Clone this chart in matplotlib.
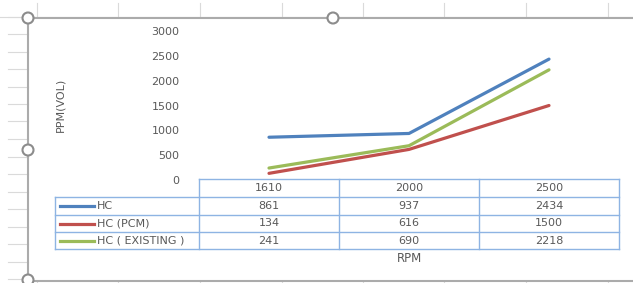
import matplotlib
matplotlib.use("Agg")
import matplotlib.pyplot as plt
from matplotlib.lines import Line2D
from matplotlib.patches import Ellipse

categories = ["1610", "2000", "2500"]
series_names = ["HC", "HC (PCM)", "HC ( EXISTING )"]
hc = [861, 937, 2434]
hc_pcm = [134, 616, 1500]
hc_existing = [241, 690, 2218]
series_values = [hc, hc_pcm, hc_existing]
colors = ["#4F81BD", "#C0504D", "#9BBB59"]
yticks = [0, 500, 1000, 1500, 2000, 2500, 3000]

W, H = 633, 283
fig = plt.figure(figsize=(W / 100, H / 100), dpi=100)
plt.rcParams['font.family'] = ['DejaVu Sans']
TXT = "#595959"

def fx(x):
    return x / W

def fy(y):
    return 1 - y / H

def line(x0, y0, x1, y1, **kw):
    fig.add_artist(Line2D([fx(x0), fx(x1)], [fy(y0), fy(y1)], transform=fig.transFigure, **kw))

# spreadsheet background gridlines
grid_c = "#DADADA"
for x in [37, 118, 200, 282, 363, 444, 526, 608]:
    line(x, 3, x, 17, color=grid_c, lw=0.8)
    line(x, 282, x, 283, color=grid_c, lw=0.8)
y = 16.5
while y < 283:
    line(8, y, 28, y, color=grid_c, lw=0.8)
    y += 17.5
line(0, 17, 633, 17, color=grid_c, lw=0.8)

# chart frame
frame_c = "#ABABAB"
line(28, 18, 633, 18, color=frame_c, lw=1.5)
line(28, 18, 28, 281, color=frame_c, lw=1.5)
line(28, 281, 633, 281, color=frame_c, lw=1.5)
for (cx, cy) in [(28, 18), (333, 18), (28, 150), (28, 280)]:
    fig.add_artist(Ellipse((fx(cx), fy(cy)), 11 / W, 11 / H, transform=fig.transFigure,
                           facecolor="white", edgecolor="#8C8C8C", lw=1.5, zorder=5))

# plot axes
x_left, x_right = 199, 619
y_top, y_bot = 31, 180
ax = fig.add_axes([fx(x_left), fy(y_bot), (x_right - x_left) / W, (y_bot - y_top) / H])
ax.set_facecolor("none")
xs = list(range(len(categories)))
for vals, c in zip(series_values, colors):
    ax.plot(xs, vals, color=c, lw=2.3, solid_capstyle="round")
ax.set_xlim(-0.5, len(categories) - 0.5)
ax.set_ylim(0, 3000)
ax.set_yticks(yticks)
ax.set_yticklabels([str(t) for t in yticks], fontsize=8, color=TXT)
ax.tick_params(axis="y", length=0, pad=14)
ax.set_xticks([])
for s in ax.spines.values():
    s.set_visible(False)

fig.text(fx(60), fy(105), "PPM(VOL)", rotation=90, ha="center", va="center",
         fontsize=8, color=TXT)

# data table
tc = "#8EB4E3"
col_edges = [199, 339, 479, 619]
row_edges = [179, 197, 215, 232, 249]
leg_left = 55
line(col_edges[0], row_edges[0], col_edges[-1], row_edges[0], color=tc, lw=1)
for r in row_edges[1:]:
    line(leg_left, r, col_edges[-1], r, color=tc, lw=1)
line(leg_left, row_edges[1], leg_left, row_edges[-1], color=tc, lw=1)
for c in col_edges:
    line(c, row_edges[0], c, row_edges[-1], color=tc, lw=1)

for j, cat in enumerate(categories):
    cx = (col_edges[j] + col_edges[j + 1]) / 2
    fig.text(fx(cx), fy((row_edges[0] + row_edges[1]) / 2), cat, ha="center", va="center",
             fontsize=8, color=TXT)
for i, (name, vals, c) in enumerate(zip(series_names, series_values, colors)):
    ry = (row_edges[i + 1] + row_edges[i + 2]) / 2
    line(60, ry, 94, ry, color=c, lw=2.3)
    fig.text(fx(97), fy(ry), name, ha="left", va="center", fontsize=8, color=TXT)
    for j, v in enumerate(vals):
        cx = (col_edges[j] + col_edges[j + 1]) / 2
        fig.text(fx(cx), fy(ry), str(v), ha="center", va="center", fontsize=8, color=TXT)

fig.text(fx(409), fy(258), "RPM", ha="center", va="center", fontsize=8.5, color=TXT)

fig.savefig("out.png", dpi=100)
